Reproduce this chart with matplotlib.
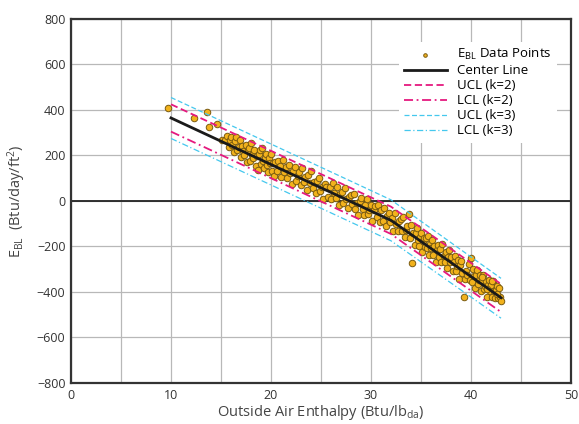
import matplotlib.pyplot as plt

plt.rcParams['font.family'] = ['Open Sans', 'DejaVu Sans']
plt.rcParams['mathtext.fontset'] = 'custom'
plt.rcParams['mathtext.rm'] = 'Open Sans'
plt.rcParams['mathtext.it'] = 'Open Sans'

# measured points (outside air enthalpy, E_BL)
enth = [9.7, 12.3, 13.6, 13.8, 14.6, 15.1,
        15.4, 15.6, 15.8, 15.9, 16.0, 16.1, 16.3, 16.4, 16.5, 16.6, 16.8, 16.9, 17.0, 17.1, 17.2,
        17.3, 17.5, 17.6, 17.7, 17.8, 17.9, 18.0, 18.1, 18.2, 18.3, 18.5, 18.6, 18.7, 18.8, 18.9,
        19.0, 19.1, 19.2, 19.3, 19.4, 19.5, 19.6, 19.7, 19.8, 19.9, 20.0, 20.1, 20.2, 20.3, 20.4,
        20.6, 20.7, 20.9, 21.0, 21.2, 21.3, 21.5, 21.6, 21.8, 21.9, 22.1, 22.2, 22.4, 22.5, 22.7,
        22.8, 23.0, 23.1, 23.3, 23.4, 23.6, 23.7, 23.9, 24.0, 24.2, 24.3, 24.5, 24.6, 24.8, 24.9,
        25.1, 25.2, 25.4, 25.5, 25.7,
        25.9, 26.0, 26.2, 26.3, 26.5, 26.6, 26.8, 26.9, 27.1, 27.2, 27.4, 27.5, 27.7, 27.8, 28.0,
        28.1, 28.3, 28.4, 28.6, 28.7, 28.9, 29.0, 29.2, 29.3, 29.4, 29.6, 29.7, 29.8, 30.0, 30.1,
        30.3, 30.4, 30.6, 30.7, 30.9,
        31.0, 31.2, 31.3, 31.5, 31.6, 31.8, 31.9, 32.1, 32.2, 32.4, 32.5, 32.7, 32.8, 33.0, 33.1,
        33.2, 33.4, 33.5, 33.6, 33.8, 33.9, 34.0, 34.1, 34.2, 34.4, 34.5, 34.6, 34.7, 34.8, 34.9,
        35.0, 35.1, 35.2, 35.3, 35.4,
        35.5, 35.6, 35.7, 35.8, 35.9, 36.0, 36.1, 36.2, 36.3, 36.5, 36.6, 36.7, 36.8, 36.9, 37.0,
        37.1, 37.3, 37.4, 37.5, 37.6, 37.7, 37.8, 37.9, 38.0, 38.2, 38.3, 38.4, 38.5, 38.6, 38.7,
        38.8, 38.9, 39.0, 39.1, 39.3, 39.4, 39.5, 39.6, 39.8, 39.9,
        40.0, 40.1, 40.2, 40.3, 40.4, 40.5, 40.6, 40.7, 40.8, 40.9, 41.0, 41.1, 41.2, 41.3, 41.4,
        41.5, 41.6, 41.7, 41.8, 41.9, 42.0, 42.1, 42.2, 42.3, 42.4, 42.5, 42.6, 42.7, 42.8, 42.9,
        43.0, 41.05, 41.55, 42.05, 42.55]
ebl = [407, 363, 393, 324, 337, 268,
       270, 286, 236, 269, 282, 245, 216, 264, 282, 225, 236, 269, 192, 240, 218,
       201, 247, 170, 223, 231, 178, 256, 204, 187, 225, 156, 199, 137, 205, 223,
       161, 234, 177, 145, 188, 206, 159, 127, 190, 168, 206, 134, 166, 109, 172,
       133, 176, 152, 105, 181, 129, 150, 103, 159, 122, 73, 131, 151, 89, 110,
       128, 69, 147, 83, 106, 47, 115, 81, 134, 55, 83, 34, 86, 102, 45,
       61, 9, 75, 63, 19,
       60, 8, 79, 37, 13, 61, -19, 29, 40, -7, 59, 7, -32, 16, 27,
       -15, 31, -36, -10, -62, -2, 11, -33, -60, -17, 9, -58, -40, -19, -86,
       -40, -22, -71, -18, -92,
       -40, -89, -31, -110, -67, -51, -93, -73, -131, -52, -100, -131, -89, -81, -134,
       -72, -158, -126, -109, -57, -163, -106, -274, -142, -193, -141, -119, -172, -200, -159,
       -142, -225, -178, -161, -204,
       -162, -205, -153, -236, -189, -207, -170, -238, -196, -267, -215, -193, -246, -210, -268,
       -191, -242, -270, -223, -296, -244, -217, -270, -248, -309, -267, -240, -308, -286, -259,
       -342, -281, -264, -317, -420, -341, -309, -327, -278, -346,
       -249, -357, -300, -328, -381, -324, -302, -365, -348, -327, -395, -348, -326, -389, -372,
       -350, -423, -371, -349, -397, -370, -423, -351, -394, -427, -390, -373, -426, -384, -422,
       -441, -336, -386, -351, -407]

# fitted center line and control limits (break points)
line_x = [10, 32, 43]
center = [365, -85, -425]
ucl2 = [425, -25, -365]
lcl2 = [305, -145, -488]
ucl3 = [455, 5, -340]
lcl3 = [275, -175, -515]

fig = plt.figure(figsize=(5.79, 4.24), dpi=100)
ax = fig.add_axes([0.1226, 0.0967, 0.8636, 0.8585])

ax.set_xticks(range(0, 51, 5), minor=True)
ax.grid(True, which='both', axis='x', color='#b8b8b8', lw=0.9)
ax.grid(True, which='major', axis='y', color='#b8b8b8', lw=0.9)
ax.axhline(0, color='#222222', lw=1.3)
ax.set_axisbelow(True)

ax.scatter(enth, ebl, s=22, c='#f2b21c', edgecolors='#7a5b10', linewidths=0.7,
           zorder=3, label=r'E$_{\mathrm{BL}}$ Data Points')
ax.plot(line_x, center, color='#1a1a1a', lw=2.0, zorder=4, label='Center Line')
ax.plot(line_x, ucl2, color='#e5197f', lw=1.3, ls=(0, (4, 2)), zorder=4, label='UCL (k=2)')
ax.plot(line_x, lcl2, color='#e5197f', lw=1.3, ls=(0, (5, 2, 1, 2)), zorder=4, label='LCL (k=2)')
ax.plot(line_x, ucl3, color='#45c8ee', lw=0.9, ls=(0, (4, 2)), zorder=4, label='UCL (k=3)')
ax.plot(line_x, lcl3, color='#45c8ee', lw=0.9, ls=(0, (5, 2, 1, 2)), zorder=4, label='LCL (k=3)')

ax.set_xlim(0, 50)
ax.set_ylim(-800, 800)
ax.set_xticks(range(0, 51, 10))
ax.set_yticks(range(-800, 801, 200))
ax.tick_params(which='both', length=0, labelsize=9, colors='#333333', pad=4)
for s in ax.spines.values():
    s.set_linewidth(1.6)
    s.set_color('#333333')

ax.set_xlabel(r'Outside Air Enthalpy (Btu/lb$_{\mathrm{da}}$)', fontsize=10.5, color='#444444', labelpad=1)
ax.set_ylabel(r'E$_{\mathrm{BL}}$  (Btu/day/ft$^{2}$)', fontsize=10.5, color='#444444', labelpad=6)

leg = ax.legend(loc='upper right', bbox_to_anchor=(0.985, 0.955), frameon=True, fancybox=False,
                edgecolor='none', facecolor='white', framealpha=1, fontsize=9.5,
                handlelength=3.2, labelspacing=0.15, borderpad=0.4, handletextpad=0.8,
                markerscale=0.55)

fig.savefig('out.png', dpi=100)
